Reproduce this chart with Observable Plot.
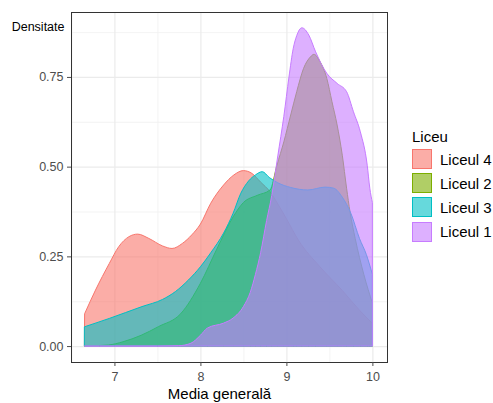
<!DOCTYPE html>
<html>
<head>
<meta charset="utf-8">
<script src="https://cdn.jsdelivr.net/npm/d3@7"></script>
<script src="https://cdn.jsdelivr.net/npm/@observablehq/plot@0.6"></script>
<style>
  html, body { margin: 0; padding: 0; background: #fff; }
  #wrap { position: relative; width: 493px; height: 403px; font-family: "Liberation Sans", Arial, sans-serif; }
  #legend { position: absolute; left: 412px; top: 127px; color: #000; }
  #legend .title { font-size: 15px; height: 20px; line-height: 20px; }
  #legend .row { display: flex; align-items: center; height: 24.2px; }
  #legend .key { width: 20px; height: 20px; box-sizing: border-box; border: 1px solid; margin-right: 8px; }
  #legend .lab { font-size: 15px; }
</style>
</head>
<body>
<div id="wrap"></div>
<script>
// ---- data ----
const series = ["Liceul 4", "Liceul 2", "Liceul 3", "Liceul 1"];
const colors = ["#F8766D", "#7CAE00", "#00BFC4", "#C77CFF"];

const liceul4X = [6.655, 6.78, 6.94, 7.05, 7.17, 7.27, 7.4, 7.56, 7.67, 7.79, 7.9, 8.0, 8.12, 8.27, 8.39, 8.5, 8.6, 8.7, 8.81, 8.9, 9.0, 9.14, 9.39, 9.65, 9.85, 10];
const liceul4Y = [0.091, 0.156, 0.23, 0.277, 0.305, 0.312, 0.3, 0.279, 0.272, 0.286, 0.31, 0.34, 0.398, 0.449, 0.477, 0.489, 0.481, 0.457, 0.43, 0.396, 0.355, 0.295, 0.221, 0.155, 0.1, 0.063];

const liceul2X = [6.655, 6.93, 7.1, 7.31, 7.51, 7.77, 8.0, 8.19, 8.38, 8.5, 8.66, 8.81, 8.89, 8.97, 9.05, 9.12, 9.2, 9.28, 9.32, 9.39, 9.47, 9.53, 9.59, 9.65, 9.7, 9.74, 9.8, 9.9, 10];
const liceul2Y = [0, 0.003, 0.012, 0.03, 0.054, 0.09, 0.175, 0.27, 0.36, 0.4, 0.42, 0.435, 0.504, 0.569, 0.644, 0.709, 0.774, 0.806, 0.813, 0.793, 0.746, 0.681, 0.616, 0.532, 0.44, 0.374, 0.3, 0.2, 0.12];

const liceul3X = [6.655, 6.94, 7.32, 7.56, 7.71, 7.86, 8.0, 8.12, 8.27, 8.38, 8.47, 8.56, 8.64, 8.72, 8.8, 8.9, 9.05, 9.25, 9.45, 9.55, 9.65, 9.75, 9.85, 9.93, 10];
const liceul3Y = [0.054, 0.077, 0.11, 0.13, 0.152, 0.184, 0.221, 0.26, 0.315, 0.37, 0.426, 0.46, 0.477, 0.486, 0.47, 0.455, 0.442, 0.435, 0.443, 0.44, 0.415, 0.37, 0.3, 0.255, 0.2];

const liceul1X = [6.655, 7.0, 7.5, 7.75, 7.89, 8.0, 8.08, 8.27, 8.38, 8.5, 8.58, 8.64, 8.7, 8.77, 8.83, 8.9, 8.97, 9.03, 9.08, 9.12, 9.18, 9.26, 9.34, 9.47, 9.59, 9.7, 9.78, 9.86, 9.94, 9.97, 10];
const liceul1Y = [0, 0, 0, 0.001, 0.008, 0.03, 0.05, 0.064, 0.078, 0.11, 0.15, 0.2, 0.26, 0.35, 0.42, 0.53, 0.64, 0.75, 0.83, 0.865, 0.887, 0.867, 0.82, 0.76, 0.732, 0.709, 0.653, 0.597, 0.504, 0.44, 0.40];

const xTicks = [7, 8, 9, 10];
const xMinor = [6.5, 7.5, 8.5, 9.5];
const yTicks = [0, 0.25, 0.5, 0.75];
const yMinor = [0.125, 0.375, 0.625, 0.875];

const xLabel = "Media generală";
const yLabel = "Densitate";
const legendTitle = "Liceu";

// ---- build table ----
const seriesXY = [
  [liceul4X, liceul4Y],
  [liceul2X, liceul2Y],
  [liceul3X, liceul3Y],
  [liceul1X, liceul1Y]
];
const rows = [];
series.forEach((s, i) => {
  const [xs, ys] = seriesXY[i];
  xs.forEach((x, j) => rows.push({series: s, x, y: ys[j]}));
});

const font = "Liberation Sans, Arial, sans-serif";

const chart = Plot.plot({
  width: 493,
  height: 403,
  marginLeft: 71,
  marginRight: 106,
  marginTop: 12,
  marginBottom: 41,
  style: {fontFamily: font, background: "#fff"},
  x: {domain: [6.495, 10.17]},
  y: {domain: [-0.0444, 0.931]},
  color: {domain: series, range: colors},
  marks: [
    Plot.ruleX(xMinor, {stroke: "#F0F0F0", strokeWidth: 0.8}),
    Plot.ruleY(yMinor, {stroke: "#F0F0F0", strokeWidth: 0.8}),
    Plot.ruleX(xTicks, {stroke: "#EBEBEB", strokeWidth: 1.2}),
    Plot.ruleY(yTicks, {stroke: "#EBEBEB", strokeWidth: 1.2}),
    Plot.areaY(rows, {
      x: "x", y1: 0, y2: "y", z: "series",
      fill: "series", fillOpacity: 0.6,
      stroke: "series", strokeWidth: 1,
      curve: "monotone-x"
    }),
    Plot.frame({stroke: "#333333", strokeWidth: 1}),
    Plot.axisX({ticks: xTicks, tickSize: 4, tickPadding: 5.5, fontSize: 12.5, color: "#4D4D4D", label: null, tickFormat: d3.format("d")}),
    Plot.axisY({ticks: yTicks, tickSize: 4, tickPadding: 4, fontSize: 12.5, color: "#4D4D4D", label: null, tickFormat: d3.format(".2f")}),
    Plot.text([xLabel], {frameAnchor: "bottom", dx: -10, dy: 36, fontSize: 15, fill: "#000", text: d => d}),
    Plot.text([yLabel], {frameAnchor: "top-left", textAnchor: "end", dx: -7, dy: 10, fontSize: 12.5, fill: "#000", text: d => d})
  ]
});

const wrap = document.getElementById("wrap");
wrap.appendChild(chart);

// ---- legend (HTML, from the same arrays) ----
const legend = document.createElement("div");
legend.id = "legend";
const t = document.createElement("div");
t.className = "title";
t.textContent = legendTitle;
legend.appendChild(t);
series.forEach((s, i) => {
  const row = document.createElement("div");
  row.className = "row";
  const key = document.createElement("div");
  key.className = "key";
  const c = d3.color(colors[i]);
  key.style.borderColor = colors[i];
  key.style.background = `rgba(${c.r},${c.g},${c.b},0.6)`;
  const lab = document.createElement("span");
  lab.className = "lab";
  lab.textContent = s;
  row.appendChild(key);
  row.appendChild(lab);
  legend.appendChild(row);
});
wrap.appendChild(legend);
</script>
</body>
</html>
